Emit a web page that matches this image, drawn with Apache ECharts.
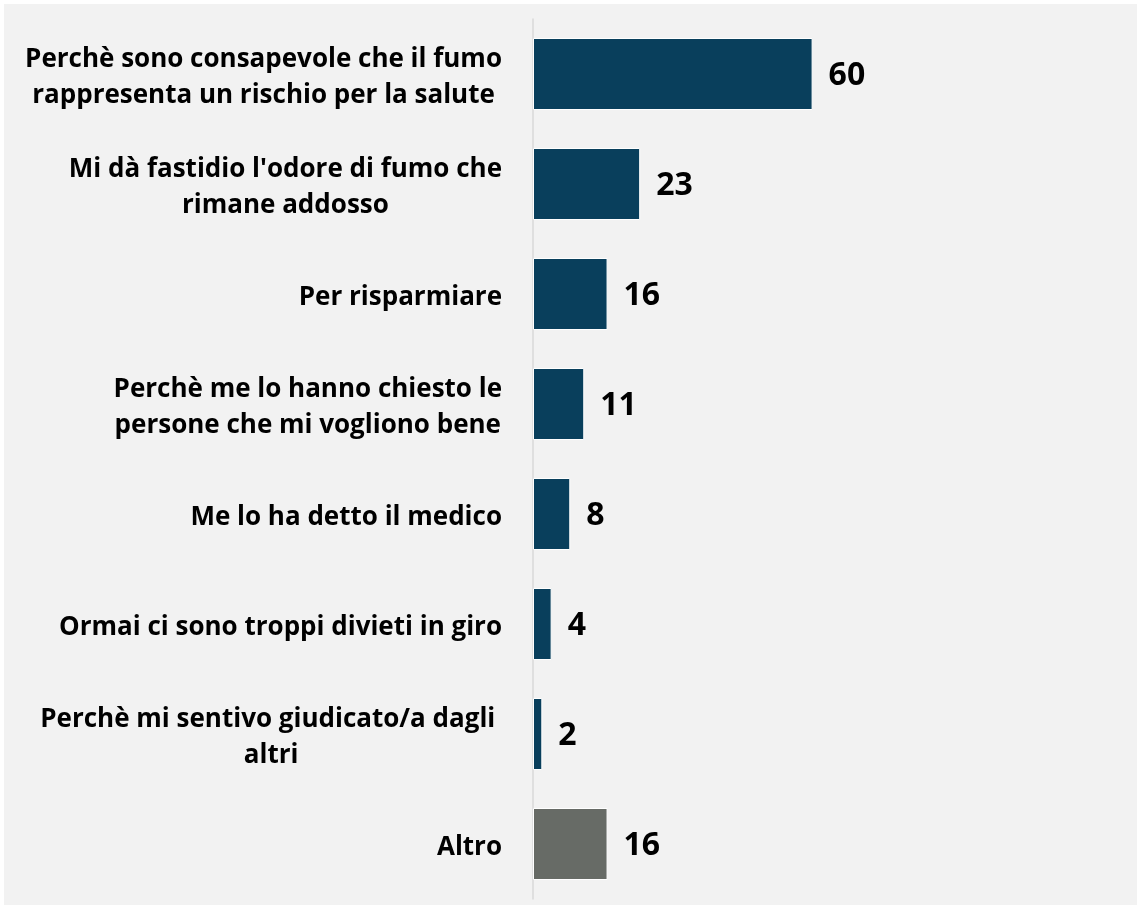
<!DOCTYPE html>
<html>
<head>
<meta charset="utf-8">
<script src="https://cdn.jsdelivr.net/npm/echarts@6/dist/echarts.min.js"></script>
<style>
  html, body { margin: 0; padding: 0; background: #ffffff; }
  #chart { position: absolute; left: 4px; top: 4px; width: 1133px; height: 901px; }
</style>
</head>
<body>
<div id="chart"></div>
<script>
const categories = [
  "Perchè sono consapevole che il fumo\nrappresenta un rischio per la salute",
  "Mi dà fastidio l'odore di fumo che\nrimane addosso",
  "Per risparmiare",
  "Perchè me lo hanno chiesto le\npersone che mi vogliono bene",
  "Me lo ha detto il medico",
  "Ormai ci sono troppi divieti in giro",
  "Perchè mi sentivo giudicato/a dagli \naltri",
  "Altro"
];
const values = [60, 23, 16, 11, 8, 4, 2, 16];
const highlightCategory = "Altro";

const FONT = '"Open Sans"';
const chart = echarts.init(document.getElementById('chart'));
chart.setOption({
  backgroundColor: '#f2f2f2',
  animation: false,
  grid: { left: 529, top: 15, width: 466, height: 880, containLabel: false },
  xAxis: {
    type: 'value', min: 0, max: 100,
    show: false
  },
  yAxis: {
    type: 'category',
    inverse: true,
    data: categories,
    axisLine: { show: true, lineStyle: { color: '#d9d9d9', width: 1.5 } },
    axisTick: { show: false },
    axisLabel: {
      margin: 31,
      align: 'right',
      fontFamily: FONT,
      fontWeight: 'bold',
      fontSize: 26,
      color: '#000',
      formatter: function (v) {
        return v.split('\n').map(function (l) { return '{c|' + l + '}'; }).join('\n');
      },
      rich: {
        c: { align: 'center', fontFamily: FONT, fontWeight: 'bold', fontSize: 26, color: '#000', lineHeight: 36, padding: [8, 0, 0, 0] }
      }
    }
  },
  series: [{
    type: 'bar',
    data: values,
    barWidth: 72,
    itemStyle: {
      borderColor: '#ffffff',
      borderWidth: 1,
      color: function (p) { return categories[p.dataIndex] === highlightCategory ? '#676b66' : '#093f5c'; }
    },
    label: {
      show: true,
      position: 'right',
      distance: 16,
      offset: [0, 2],
      fontFamily: FONT,
      fontWeight: 'bold',
      fontSize: 32,
      color: '#000'
    }
  }]
});
</script>
</body>
</html>
